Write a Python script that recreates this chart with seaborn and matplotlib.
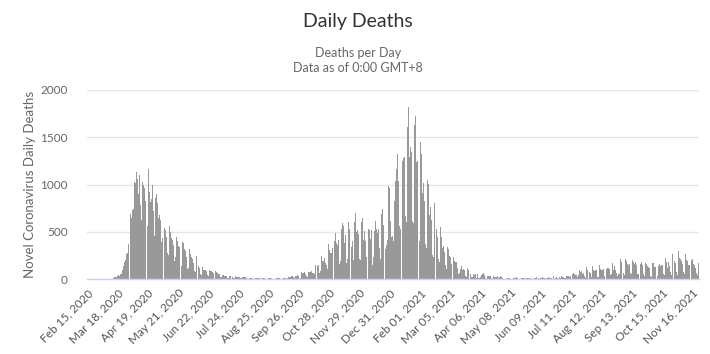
import matplotlib
matplotlib.use("Agg")
import matplotlib.pyplot as plt
import pandas as pd
import seaborn as sns

# Daily deaths, Feb 15 2020 - Nov 23 2021
feb20 = [0, 0, 0, 0, 0, 0, 0, 0, 0, 0, 0, 0, 0, 0, 0]
mar20 = [0, 0, 0, 0, 1, 1, 0, 2, 1, 2, 2, 1, 10, 14, 20, 20, 16, 33, 40, 33, 56, 48,
         90, 140, 180, 200, 260, 280, 370, 360, 600]
apr20 = [690, 650, 730, 740, 1030, 1020, 1130, 1060, 900, 1100, 780, 620, 1030, 1000, 960,
         830, 1040, 680, 560, 1160, 920, 810, 850, 1000, 720, 460, 860, 900, 800, 650]
may20 = [680, 620, 390, 430, 660, 600, 540, 520, 440, 270, 250, 560, 500, 430, 410, 360,
         190, 230, 440, 400, 350, 340, 290, 150, 140, 390, 380, 320, 300, 230, 110]
jun20 = [120, 320, 260, 230, 210, 170, 80, 70, 240, 200, 160, 140, 120, 50, 40, 130, 100,
         95, 90, 80, 40, 30, 90, 85, 80, 70, 60, 30, 25, 88]
jul20 = [70, 60, 55, 50, 25, 20, 42, 40, 35, 30, 28, 15, 12, 32, 30, 28, 25, 22, 10, 8,
         28, 26, 24, 22, 20, 8, 6, 25, 22, 20, 18]
aug20 = [15, 0, 0, 18, 15, 12, 10, 8, 0, 0, 14, 12, 10, 8, 6, 0, 0, 12, 10, 8, 6, 5, 0, 0,
         12, 10, 8, 6, 5, 0, 0]
sep20 = [3, 10, 12, 10, 8, 2, 3, 15, 8, 14, 9, 10, 5, 9, 20, 21, 21, 27, 27, 18, 11, 37,
         37, 40, 34, 23, 17, 13, 71, 59]
oct20 = [66, 77, 49, 33, 19, 76, 70, 77, 87, 65, 65, 50, 143, 137, 138, 136, 150, 67, 80,
         241, 191, 189, 224, 174, 151, 102, 367, 310, 280, 274, 326]
nov20 = [162, 136, 397, 492, 378, 355, 413, 156, 194, 532, 595, 563, 376, 462, 168, 213,
         598, 529, 501, 511, 341, 398, 206, 608, 696, 498, 521, 479, 215, 205]
dec20 = [603, 648, 414, 504, 397, 231, 189, 616, 533, 516, 424, 519, 144, 232, 506, 612,
         532, 489, 534, 326, 215, 691, 744, 570, 570, 210, 316, 357, 414, 981, 964]
jan21 = [613, 445, 454, 407, 830, 1041, 1162, 1325, 1035, 563, 529, 1243, 1564, 1248, 1280,
         1295, 671, 599, 1610, 1820, 1290, 1401, 1348, 610, 592, 1631, 1725, 1239, 1245,
         1200, 587]
feb21 = [406, 1449, 1322, 915, 1014, 828, 373, 333, 1052, 1001, 678, 758, 621, 258, 230,
         799, 738, 454, 533, 445, 215, 178, 548, 442, 323, 345, 290, 144]
mar21 = [104, 343, 315, 242, 236, 158, 82, 65, 231, 190, 175, 181, 121, 52, 64, 110, 141,
         95, 101, 96, 33, 17, 112, 98, 70, 63, 58, 19, 23, 56, 43]
apr21 = [51, 10, 58, 10, 10, 20, 45, 53, 60, 40, 7, 4, 23, 33, 36, 34, 32, 10, 4, 33, 22,
         16, 18, 32, 12, 17, 29, 23, 15, 17]
may21 = [15, 1, 1, 4, 14, 13, 11, 2, 2, 2, 11, 13, 11, 17, 7, 4, 5, 7, 9, 9, 10, 12, 6, 5,
         14, 10, 7, 10, 0, 6, 0]
jun21 = [0, 12, 13, 18, 12, 4, 6, 3, 7, 13, 17, 12, 8, 3, 7, 9, 19, 11, 14, 10, 3, 27, 16,
         21, 14, 18, 6, 4, 26, 14]
jul21 = [27, 18, 18, 15, 9, 37, 33, 29, 26, 34, 18, 6, 50, 63, 49, 41, 41, 19, 39, 96, 73,
         84, 51, 65, 28, 14, 131, 91, 86, 68, 74]
aug21 = [65, 24, 138, 92, 86, 95, 92, 24, 26, 146, 104, 94, 93, 103, 28, 39, 170, 111, 113,
         114, 104, 40, 49, 174, 100, 140, 100, 61, 28, 48, 50]
sep21 = [207, 178, 121, 100, 68, 45, 209, 191, 158, 147, 156, 61, 56, 201, 185, 158, 178,
         148, 56, 49, 167, 203, 158, 180, 150, 57, 37, 167, 164, 137]
oct21 = [127, 121, 33, 26, 166, 167, 126, 127, 136, 38, 28, 136, 157, 138, 148, 148, 57, 45,
         223, 179, 115, 180, 135, 72, 40, 263, 207, 199, 186, 166, 74]
nov21 = [40, 293, 217, 214, 194, 157, 72, 57, 262, 201, 195, 150, 150, 61, 47, 201, 214, 157,
         150, 120, 61, 45, 165]

tick_labels = ["Feb 15, 2020", "Mar 18, 2020", "Apr 19, 2020", "May 21, 2020",
               "Jun 22, 2020", "Jul 24, 2020", "Aug 25, 2020", "Sep 26, 2020",
               "Oct 28, 2020", "Nov 29, 2020", "Dec 31, 2020", "Feb 01, 2021",
               "Mar 05, 2021", "Apr 06, 2021", "May 08, 2021", "Jun 09, 2021",
               "Jul 11, 2021", "Aug 12, 2021", "Sep 13, 2021", "Oct 15, 2021",
               "Nov 16, 2021"]
y_ticks = [0, 500, 1000, 1500, 2000]

months = [feb20, mar20, apr20, may20, jun20, jul20, aug20, sep20, oct20, nov20, dec20,
          jan21, feb21, mar21, apr21, may21, jun21, jul21, aug21, sep21, oct21, nov21]
deaths = [v for m in months for v in m]
dates = pd.date_range("2020-02-15", periods=len(deaths), freq="D")
df = pd.DataFrame({"date": dates.strftime("%Y-%m-%d"), "deaths": deaths})

sns.set_theme(style="white")
plt.rcParams["font.family"] = ["Lato", "DejaVu Sans"]

W, H = 710, 354
fig = plt.figure(figsize=(W / 100, H / 100), dpi=100)
ax = fig.add_axes([87 / W, 1 - 279 / H, 612 / W, 189 / H])

sns.barplot(data=df, x="date", y="deaths", color="#999999", saturation=1,
            width=0.9, linewidth=0, errorbar=None, ax=ax)

ax.set_xlim(-0.5, len(deaths) - 0.5)
ax.set_ylim(0, 2000)
ax.set_yticks(y_ticks)
ax.set_yticklabels([str(v) for v in y_ticks], fontsize=8.5, color="#666666")
ax.yaxis.grid(True, color="#e6e6e6", linewidth=1)
ax.set_axisbelow(True)

tick_pos = list(range(0, len(deaths), 32))[:len(tick_labels)]
ax.set_xticks(tick_pos)
ax.set_xticklabels(tick_labels, rotation=45, ha="right", rotation_mode="anchor",
                   fontsize=8.5, color="#555555")
ax.tick_params(axis="x", length=0, pad=6)
ax.tick_params(axis="y", length=0, pad=14)

for s in ["top", "right", "left"]:
    ax.spines[s].set_visible(False)
ax.spines["bottom"].set_color("#ccd6eb")
ax.spines["bottom"].set_linewidth(1)

ax.set_xlabel("")
ax.set_ylabel("Novel Coronavirus Daily Deaths", fontsize=9.5, color="#666666", labelpad=3)

fig.text(358 / W, 1 - 22 / H, "Daily Deaths", ha="center", va="center",
         fontsize=14, color="#333333")
fig.text(358 / W, 1 - 53 / H, "Deaths per Day", ha="center", va="center",
         fontsize=9, color="#666666")
fig.text(358 / W, 1 - 68 / H, "Data as of 0:00 GMT+8", ha="center", va="center",
         fontsize=9, color="#666666")

fig.savefig("out.png", dpi=100)
